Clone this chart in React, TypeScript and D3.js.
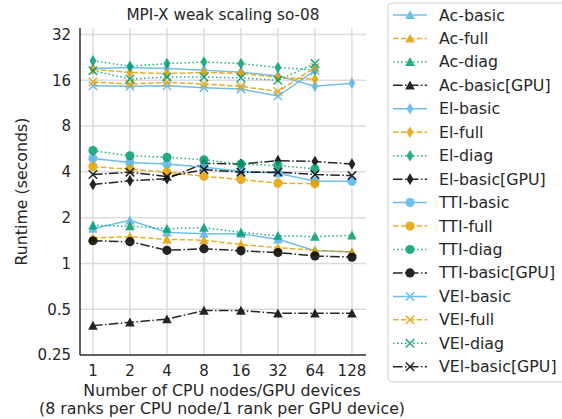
import React from "react";
import * as d3 from "d3";

const nodes = [1, 2, 4, 8, 16, 32, 64, 128];
const yTicks = [0.25, 0.5, 1, 2, 4, 8, 16, 32];
const yTickLabels = ["0.25", "0.5", "1", "2", "4", "8", "16", "32"];

// runtimes in seconds, null where there is no run
const acBasic = [1.69, 1.92, 1.6, 1.57, 1.57, 1.44, 1.21, 1.19];
const acFull = [1.47, 1.5, 1.44, 1.42, 1.33, 1.27, 1.22, 1.19];
const acDiag = [1.78, 1.76, 1.69, 1.72, 1.6, 1.52, 1.5, 1.53];
const acGpu = [0.39, 0.41, 0.43, 0.49, 0.49, 0.47, 0.47, 0.47];
const elBasic = [19.1, 19.4, 19.1, 18.6, 18.1, 17.1, 14.6, 15.3];
const elFull = [18.9, 18.0, 17.7, 18.0, 17.8, 16.7, 16.3, null];
const elDiag = [21.5, 19.8, 20.6, 21.1, 20.6, 19.4, 18.7, null];
const elGpu = [3.3, 3.5, 3.6, 4.55, 4.5, 4.74, 4.68, 4.5];
const ttiBasic = [4.9, 4.6, 4.5, 4.29, 4.03, 3.92, 3.47, 3.47];
const ttiFull = [4.33, 4.16, 3.98, 3.74, 3.56, 3.37, 3.34, null];
const ttiDiag = [5.52, 5.1, 4.99, 4.8, 4.5, 4.4, 4.18, null];
const ttiGpu = [1.41, 1.39, 1.22, 1.25, 1.21, 1.18, 1.12, 1.1];
const velBasic = [14.7, 14.6, 14.7, 14.3, 14.0, 12.6, 18.5, null];
const velFull = [15.6, 15.1, 15.5, 15.1, 14.6, 13.5, 19.4, null];
const velDiag = [18.5, 16.3, 16.8, 16.8, 16.6, 16.0, 20.6, null];
const velGpu = [3.84, 3.98, 3.72, 4.14, 3.98, 3.98, 3.84, 3.78];

const colors = { basic: "#56B4E9", full: "#E69F00", diag: "#009E73", gpu: "#000000" };
const dashes = { basic: "none", full: "5.5,2.4", diag: "1.5,2.5", gpu: "9.6,2.4,1.5,2.4" };

type Kind = "basic" | "full" | "diag" | "gpu";
type Marker = "tri" | "dia" | "circ" | "x";

const series: { name: string; kind: Kind; marker: Marker; values: (number | null)[] }[] = [
  { name: "Ac-basic", kind: "basic", marker: "tri", values: acBasic },
  { name: "Ac-full", kind: "full", marker: "tri", values: acFull },
  { name: "Ac-diag", kind: "diag", marker: "tri", values: acDiag },
  { name: "Ac-basic[GPU]", kind: "gpu", marker: "tri", values: acGpu },
  { name: "El-basic", kind: "basic", marker: "dia", values: elBasic },
  { name: "El-full", kind: "full", marker: "dia", values: elFull },
  { name: "El-diag", kind: "diag", marker: "dia", values: elDiag },
  { name: "El-basic[GPU]", kind: "gpu", marker: "dia", values: elGpu },
  { name: "TTI-basic", kind: "basic", marker: "circ", values: ttiBasic },
  { name: "TTI-full", kind: "full", marker: "circ", values: ttiFull },
  { name: "TTI-diag", kind: "diag", marker: "circ", values: ttiDiag },
  { name: "TTI-basic[GPU]", kind: "gpu", marker: "circ", values: ttiGpu },
  { name: "VEl-basic", kind: "basic", marker: "x", values: velBasic },
  { name: "VEl-full", kind: "full", marker: "x", values: velFull },
  { name: "VEl-diag", kind: "diag", marker: "x", values: velDiag },
  { name: "VEl-basic[GPU]", kind: "gpu", marker: "x", values: velGpu },
];

const font = "DejaVu Sans, sans-serif";
const left = 80, right = 366, top = 28, bottom = 355;

function MarkerShape({ type, x, y, color }: { type: Marker; x: number; y: number; color: string }) {
  if (type === "circ") return <circle cx={x} cy={y} r={4.6} fill={color} />;
  if (type === "tri") {
    const r = 4.8;
    return <path d={`M${x},${y - r}L${x + r},${y + r * 0.85}L${x - r},${y + r * 0.85}Z`} fill={color} />;
  }
  if (type === "dia") {
    const r = 5.8;
    return <path d={`M${x},${y - r}L${x + r * 0.6},${y}L${x},${y + r}L${x - r * 0.6},${y}Z`} fill={color} />;
  }
  const r = 4.2;
  return (
    <path d={`M${x - r},${y - r}L${x + r},${y + r}M${x - r},${y + r}L${x + r},${y - r}`} stroke={color} strokeWidth={1.5} fill="none" />
  );
}

export default function App() {
  const x = d3.scaleLog().base(2).domain([Math.pow(2, -0.35), Math.pow(2, 7.38)]).range([left, right]);
  const y = d3.scaleLog().base(2).domain([0.25, 35.3]).range([bottom, top]);

  const line = d3
    .line<[number, number | null]>()
    .defined((d) => d[1] != null)
    .x((d) => x(d[0]))
    .y((d) => y(d[1] as number));

  const legendY = (i: number) => 15 + i * 23.45;

  return (
    <svg width={562} height={419} style={{ position: "absolute", left: 0, top: 0 }} fontFamily={font}>
      <rect width={562} height={419} fill="#fff" />
      {/* grid */}
      {nodes.map((n) => (
        <line key={"gx" + n} x1={x(n)} x2={x(n)} y1={top} y2={bottom} stroke="#dcdcdc" strokeWidth={1.5} />
      ))}
      {yTicks.map((t) => (
        <line key={"gy" + t} x1={left} x2={right} y1={y(t)} y2={y(t)} stroke="#dcdcdc" strokeWidth={1.5} />
      ))}
      {/* spines */}
      <line x1={left} x2={left} y1={top} y2={bottom} stroke="#333" strokeWidth={1.5} />
      <line x1={left} x2={right} y1={bottom} y2={bottom} stroke="#333" strokeWidth={1.5} />
      {/* tick labels */}
      {nodes.map((n) => (
        <text key={"tx" + n} x={x(n)} y={bottom + 21} textAnchor="middle" fontSize={15} fill="#262626">
          {n}
        </text>
      ))}
      {yTicks.map((t, i) => (
        <text key={"ty" + t} x={71} y={y(t) + 5.3} textAnchor="end" fontSize={15} fill="#262626">
          {yTickLabels[i]}
        </text>
      ))}
      <text x={(left + right) / 2} y={19.5} textAnchor="middle" fontSize={15.3} fill="#262626">
        MPI-X weak scaling so-08
      </text>
      <text x={222} y={395.5} textAnchor="middle" fontSize={15.8} fill="#262626">
        Number of CPU nodes/GPU devices
      </text>
      <text x={222} y={414} textAnchor="middle" fontSize={15.8} fill="#262626">
        (8 ranks per CPU node/1 rank per GPU device)
      </text>
      <text transform={`translate(27,${(top + bottom) / 2}) rotate(-90)`} textAnchor="middle" fontSize={15.8} fill="#262626">
        Runtime (seconds)
      </text>
      {/* series */}
      {series.map((s) => {
        const pts = nodes.map((n, i) => [n, s.values[i]] as [number, number | null]);
        const c = colors[s.kind];
        return (
          <g key={s.name} opacity={0.85}>
            <path d={line(pts) || ""} fill="none" stroke={c} strokeWidth={1.5} strokeDasharray={dashes[s.kind]} />
            {pts
              .filter((p) => p[1] != null)
              .map((p) => (
                <MarkerShape key={p[0]} type={s.marker} x={x(p[0])} y={y(p[1] as number)} color={c} />
              ))}
          </g>
        );
      })}
      {/* legend */}
      <rect x={388} y={3} width={180} height={379} rx={4} fill="#fff" stroke="#cccccc" strokeWidth={1} />
      {series.map((s, i) => {
        const c = colors[s.kind];
        const ly = legendY(i);
        return (
          <g key={"lg" + s.name}>
            <g opacity={0.85}>
              <line x1={393} x2={427} y1={ly} y2={ly} stroke={c} strokeWidth={1.5} strokeDasharray={dashes[s.kind]} />
              <MarkerShape type={s.marker} x={410} y={ly} color={c} />
            </g>
            <text x={439} y={ly + 5.5} fontSize={15.8} fill="#262626">
              {s.name}
            </text>
          </g>
        );
      })}
    </svg>
  );
}
